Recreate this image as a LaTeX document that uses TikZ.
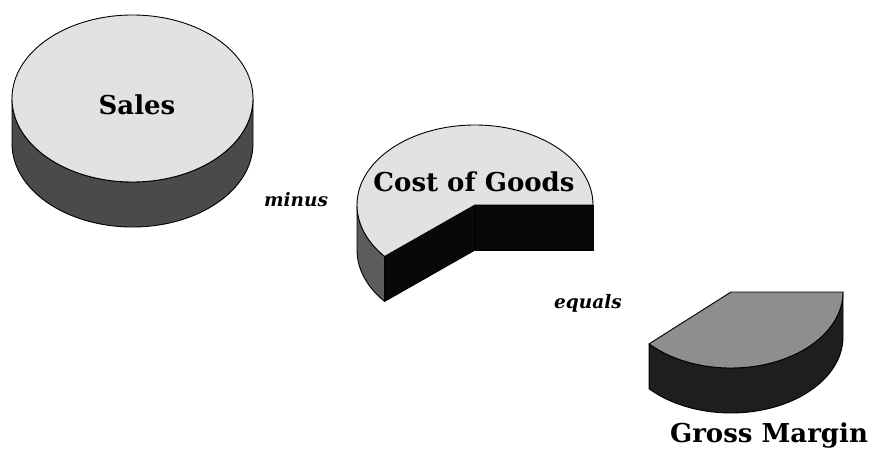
\documentclass[tikz,border=0pt]{standalone}
\usepackage{fontspec}
\setmainfont{DejaVu Serif}
\usetikzlibrary{calc}
\definecolor{toplight}{HTML}{E2E2E2}
\definecolor{sidedark}{HTML}{4A4A4A}
\definecolor{sidegray}{HTML}{5C5C5C}
\definecolor{cutblack}{HTML}{080808}
\definecolor{gmtop}{HTML}{8E8E8E}
\definecolor{gmside}{HTML}{1E1E1E}
\tikzset{
  outline/.style={draw=black, line width=0.9pt, line join=round},
  biglabel/.style={font=\fontsize{26}{30}\selectfont\bfseries, anchor=base, inner sep=0pt},
  oplabel/.style={font=\fontsize{18.5}{22}\selectfont\bfseries\itshape, anchor=base, inner sep=0pt}
}
\begin{document}
\begin{tikzpicture}[x=1pt,y=1pt]
\useasboundingbox (0,0) rectangle (874,450);
% ---------- Sales disc ----------
\coordinate (S) at (132.5,351.5);
\path[fill=sidedark, outline] ($(S)+(-120.5pt,0)$) -- ++(0,-45pt)
   arc[start angle=180, end angle=360, x radius=120.5pt, y radius=83.5pt]
   -- ++(0,45pt)
   arc[start angle=360, end angle=180, x radius=120.5pt, y radius=83.5pt] -- cycle;
\path[fill=toplight, outline] (S) ellipse [x radius=120.5pt, y radius=83.5pt];
\node[biglabel] (sales) at (137,335) {Sales};
% ---------- Cost of Goods pie ----------
\coordinate (C) at (475,245);
\coordinate (Cr) at ($(C)+(118pt,0)$);
\coordinate (Cl) at ($(C)+(-118pt,0)$);
\coordinate (Cc) at ($(C)+(220:118pt and 80pt)$);
\path[fill=sidegray, outline] (Cl) -- ++(0,-45pt)
   arc[start angle=180, end angle=220, x radius=118pt, y radius=80pt]
   -- (Cc) arc[start angle=220, end angle=180, x radius=118pt, y radius=80pt] -- cycle;
\path[fill=cutblack, outline] (C) -- (Cc) -- ++(0,-45pt) -- ($(C)+(0,-45pt)$) -- cycle;
\path[fill=cutblack, outline] (C) -- (Cr) -- ++(0,-45pt) -- ($(C)+(0,-45pt)$) -- cycle;
\path[fill=toplight, outline] (C) -- (Cr)
   arc[start angle=0, end angle=220, x radius=118pt, y radius=80pt] -- cycle;
\node[biglabel] (cog) at (474,258) {Cost of Goods};
% ---------- Gross Margin wedge ----------
\coordinate (G) at (731,158);
\coordinate (Gr) at ($(G)+(112pt,0)$);
\coordinate (Gc) at ($(G)+(223:112pt and 76pt)$);
\path[fill=gmside, outline] (Gc) -- ++(0,-45pt)
   arc[start angle=223, end angle=360, x radius=112pt, y radius=76pt]
   -- (Gr) arc[start angle=360, end angle=223, x radius=112pt, y radius=76pt] -- cycle;
\path[fill=gmtop, outline] (G) -- (Gc)
   arc[start angle=223, end angle=360, x radius=112pt, y radius=76pt] -- cycle;
\node[biglabel] (gm) at (769,8) {Gross Margin};
% ---------- operators ----------
\node[oplabel] (minus) at (296,243) {minus};
\node[oplabel] (equals) at (588,142) {equals};
\end{tikzpicture}
\end{document}
